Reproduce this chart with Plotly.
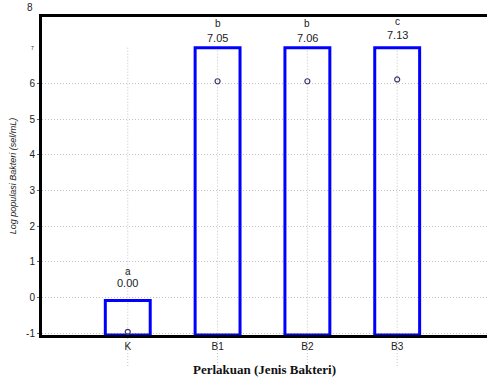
import plotly.graph_objects as go

categories = ["K", "B1", "B2", "B3"]
bar_values = [-0.08, 7.0, 7.0, 7.0]
point_values = [-0.96, 6.06, 6.06, 6.11]
mean_labels = ["0.00", "7.05", "7.06", "7.13"]
letters = ["a", "b", "b", "c"]
y_ticks = [-1, 0, 1, 2, 3, 4, 5, 6]

y_min, y_max = -1.05, 7.86
font = "Liberation Sans, Arial, sans-serif"
txt = "#222222"
grid = "#c4c4c4"
dots = "1px,2px"

fig = go.Figure()
fig.add_trace(go.Bar(
    x=categories, y=[v - y_min for v in bar_values], base=y_min, width=0.5,
    marker=dict(color="rgba(0,0,0,0)", line=dict(color="#0000FF", width=3)),
    hoverinfo="skip", showlegend=False,
))
fig.add_trace(go.Scatter(
    x=categories, y=point_values, mode="markers",
    marker=dict(symbol="circle-open", size=5, color="#3a3a6a", line=dict(width=1.2)),
    showlegend=False,
))

shapes = []
for c in categories:
    shapes.append(dict(type="line", xref="x", yref="y", x0=c, x1=c, y0=7.0, y1=y_min,
                       line=dict(color=grid, width=1, dash=dots), layer="below"))
    shapes.append(dict(type="line", xref="x", yref="paper", x0=c, x1=c, y0=0, y1=-0.1,
                       line=dict(color=grid, width=1, dash=dots), layer="below"))

annotations = []
val_shift = [15, 8, 8, 11]
let_shift = [27, 23, 23, 25]
for i, c in enumerate(categories):
    annotations.append(dict(x=c, y=bar_values[i], xref="x", yref="y", text=mean_labels[i],
                            showarrow=False, yanchor="bottom", yshift=val_shift[i] - 6,
                            font=dict(family=font, size=11, color=txt)))
    annotations.append(dict(x=c, y=bar_values[i], xref="x", yref="y", text=letters[i],
                            showarrow=False, yanchor="bottom", yshift=let_shift[i] - 6,
                            font=dict(family=font, size=10, color=txt)))
annotations.append(dict(x=0, y=7, xref="paper", yref="y", text="7", showarrow=False,
                        xanchor="right", xshift=-6, font=dict(family=font, size=5, color=txt)))
annotations.append(dict(x=0, y=1, xref="paper", yref="paper", text="8", showarrow=False,
                        xanchor="right", yanchor="bottom", xshift=-7, yshift=2,
                        font=dict(family=font, size=10, color=txt)))

fig.update_layout(
    width=487, height=385,
    margin=dict(l=42, r=0, t=17, b=50),
    plot_bgcolor="white", paper_bgcolor="white",
    shapes=shapes, annotations=annotations,
    xaxis=dict(
        range=[-0.955, 4.0], showline=True, linecolor="black", linewidth=3, mirror=True,
        showgrid=False, ticks="", zeroline=False, automargin=False,
        tickfont=dict(family=font, size=10, color=txt),
        title=dict(text="<b>Perlakuan (Jenis Bakteri)</b>", standoff=14,
                   font=dict(family="Liberation Serif, Times New Roman, serif", size=13, color="#111")),
    ),
    yaxis=dict(
        range=[y_min, y_max], tickvals=y_ticks, ticktext=[str(t) for t in y_ticks],
        showline=True, linecolor="black", linewidth=3, zeroline=False, automargin=False,
        showgrid=True, gridcolor=grid, griddash=dots, gridwidth=1,
        ticks="outside", ticklen=2, tickcolor="#666",
        tickfont=dict(family=font, size=10, color=txt),
        title=dict(text="<i>Log populasi Bakteri (sel/mL)</i>", standoff=8,
                   font=dict(family=font, size=9, color=txt)),
    ),
)

fig.write_html("out.html", config={"displayModeBar": False},
               post_script="document.body.style.margin='0';document.body.style.overflow='hidden';")
